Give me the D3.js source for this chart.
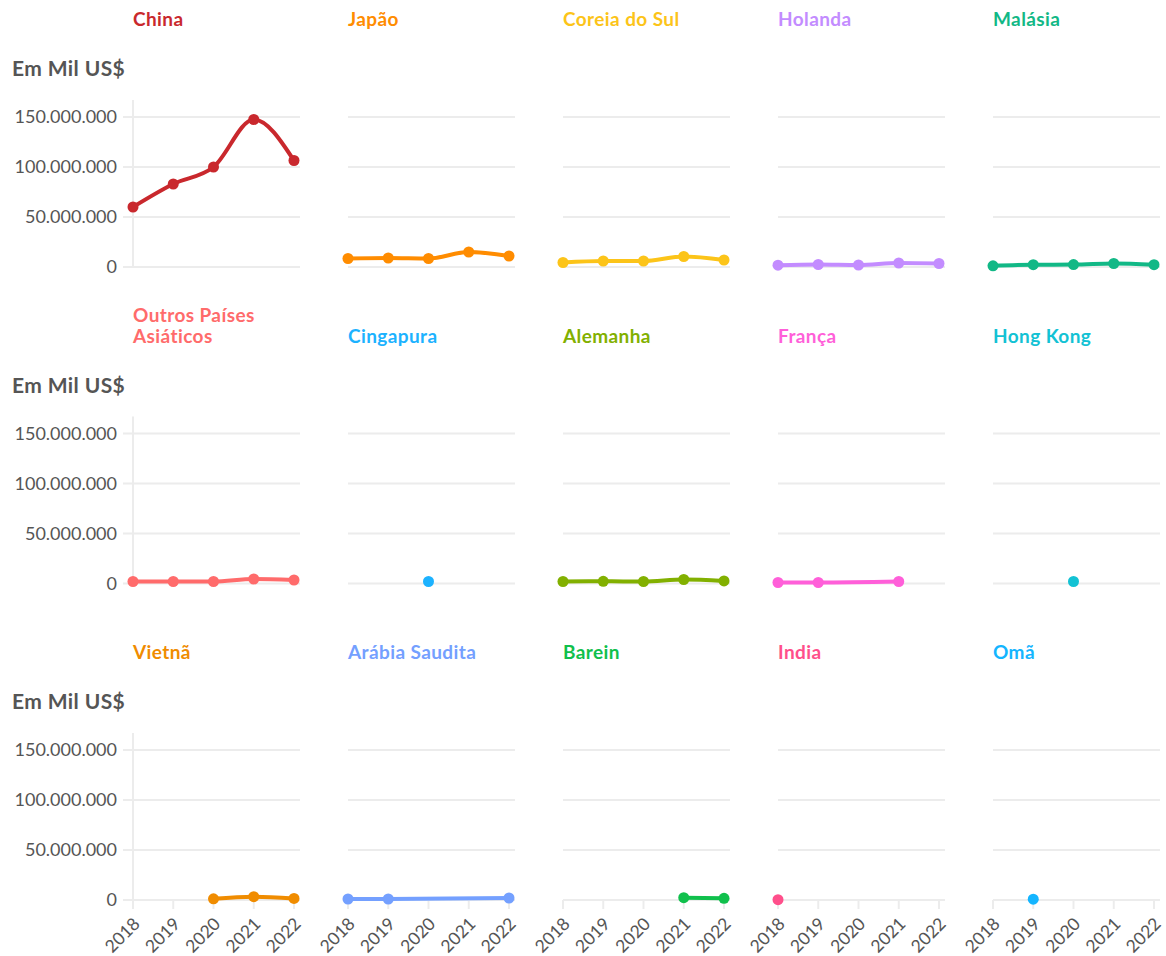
<!DOCTYPE html>
<html>
<head>
<meta charset="utf-8">
<script src="https://cdn.jsdelivr.net/npm/d3@7"></script>
<style>
  body { margin: 0; background: #fff; }
  text { font-family: Lato, "Noto Sans", sans-serif; }
</style>
</head>
<body>
<div id="chart"></div>
<script>
// data (Em Mil US$), null = no value that year
var years = [2018, 2019, 2020, 2021, 2022];
var countries = ["China", "Japão", "Coreia do Sul", "Holanda", "Malásia",
  "Outros Países Asiáticos", "Cingapura", "Alemanha", "França", "Hong Kong",
  "Vietnã", "Arábia Saudita", "Barein", "India", "Omã"];
var colors = ["#c9282d", "#ff8c00", "#fcc419", "#c38cff", "#12b886",
  "#ff6b6b", "#1cb2ff", "#82b000", "#ff5fd9", "#13c2d4",
  "#f08c00", "#74a0ff", "#10c04c", "#ff4f8b", "#14b5ff"];
var china    = [60000000, 83000000, 100000000, 147500000, 106500000];
var japao    = [8500000, 9000000, 8500000, 15000000, 11000000];
var coreia   = [4500000, 6000000, 6000000, 10500000, 7000000];
var holanda  = [1800000, 2500000, 2000000, 4000000, 3500000];
var malasia  = [1200000, 2300000, 2400000, 3500000, 2300000];
var outros   = [2000000, 2000000, 2000000, 4500000, 3500000];
var cingapura = [null, null, 2000000, null, null];
var alemanha = [2000000, 2200000, 2000000, 4000000, 2600000];
var franca   = [1000000, 1000000, null, 2000000, null];
var hongkong = [null, null, 2000000, null, null];
var vietna   = [null, null, 1200000, 3300000, 1600000];
var arabia   = [1000000, 1000000, null, null, 2000000];
var barein   = [null, null, null, 2300000, 1700000];
var india    = [300000, null, null, null, null];
var oma      = [null, 800000, null, null, null];
var series = [china, japao, coreia, holanda, malasia, outros, cingapura, alemanha,
  franca, hongkong, vietna, arabia, barein, india, oma];
var yTicks = [0, 50000000, 100000000, 150000000];
var yMax = 167000000;
var yLabel = "Em Mil US$";

var width = 1166, height = 956;
var svg = d3.select("#chart").append("svg")
    .attr("width", width)
    .attr("height", height);

var ptLocale = d3.formatLocale({decimal: ",", thousands: ".", grouping: [3], currency: ["", ""]});
var fmt = ptLocale.format(",d");

// panel geometry
var cols = 5;
var left0 = 133, colStep = 215;
var zero0 = 267, rowStep = 316.5;
var plotH = 167, plotW = 167;

var x = d3.scalePoint().domain(years).range([0, 161]);
var y = d3.scaleLinear().domain([0, yMax]).range([plotH, 0]);

var line = d3.line()
    .x(function(d) { return x(d.year); })
    .y(function(d) { return y(d.value); })
    .curve(d3.curveMonotoneX);

countries.forEach(function(name, i) {
  var col = i % cols, row = Math.floor(i / cols);
  var ox = left0 + col * colStep;
  var oy = zero0 + row * rowStep - plotH;
  var g = svg.append("g").attr("transform", "translate(" + ox + "," + oy + ")");

  // title, wrapped lines grow upward
  var lines = name == "Outros Países Asiáticos" ? ["Outros Países", "Asiáticos"] : [name];
  var title = g.append("text")
      .attr("fill", colors[i])
      .style("font-size", "19px")
      .style("font-weight", "bold")
      .style("letter-spacing", "0.4px");
  lines.forEach(function(l, k) {
    title.append("tspan")
        .attr("x", 0)
        .attr("y", -74 + (k - (lines.length - 1)) * 21)
        .text(l);
  });

  // gridlines
  g.selectAll("line.grid").data(yTicks).enter().append("line")
      .attr("class", "grid")
      .attr("x1", col == 0 ? -10 : 0)
      .attr("x2", plotW)
      .attr("y1", function(d) { return y(d); })
      .attr("y2", function(d) { return y(d); })
      .attr("stroke", "#ececec")
      .attr("stroke-width", 2);

  if (col == 0) {
    g.append("line")
        .attr("x1", 0).attr("x2", 0)
        .attr("y1", 0).attr("y2", plotH)
        .attr("stroke", "#ececec")
        .attr("stroke-width", 2);
    g.selectAll("text.ytick").data(yTicks).enter().append("text")
        .attr("class", "ytick")
        .attr("x", -16)
        .attr("y", function(d) { return y(d); })
        .attr("dy", "0.35em")
        .attr("text-anchor", "end")
        .attr("fill", "#555")
        .style("font-size", "18px")
        .text(function(d) { return fmt(d); });
    g.append("text")
        .attr("x", 12 - ox)
        .attr("y", -24)
        .attr("fill", "#555")
        .style("font-size", "21px")
        .style("font-weight", "bold")
        .style("letter-spacing", "0.4px")
        .text(yLabel);
  }

  if (row == 2) {
    g.selectAll("line.xtick").data(years).enter().append("line")
        .attr("class", "xtick")
        .attr("x1", function(d) { return x(d); })
        .attr("x2", function(d) { return x(d); })
        .attr("y1", plotH)
        .attr("y2", plotH + 9)
        .attr("stroke", "#ececec")
        .attr("stroke-width", 2);
    g.selectAll("text.xlab").data(years).enter().append("text")
        .attr("class", "xlab")
        .attr("text-anchor", "end")
        .attr("fill", "#555")
        .style("font-size", "17.5px")
        .attr("transform", function(d) { return "translate(" + (x(d) + 8) + "," + (plotH + 25) + ") rotate(-45)"; })
        .text(function(d) { return d; });
  }

  var pts = [];
  series[i].forEach(function(v, k) {
    if (v != null) pts.push({year: years[k], value: v});
  });

  if (pts.length > 1) {
    g.append("path")
        .datum(pts)
        .attr("d", line)
        .attr("fill", "none")
        .attr("stroke", colors[i])
        .attr("stroke-width", 4)
        .attr("stroke-linejoin", "round");
  }
  g.selectAll("circle").data(pts).enter().append("circle")
      .attr("cx", function(d) { return x(d.year); })
      .attr("cy", function(d) { return y(d.value); })
      .attr("r", 5.5)
      .attr("fill", colors[i]);
});
</script>
</body>
</html>
